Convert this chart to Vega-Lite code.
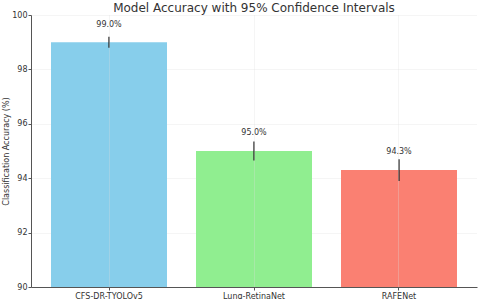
{
  "$schema": "https://vega.github.io/schema/vega-lite/v6.json",
  "autosize": {"type": "none"},
  "width": 446,
  "height": 272,
  "padding": {"left": 31, "top": 15, "right": 3, "bottom": 12},
  "background": "white",
  "title": {"text": "Model Accuracy with 95% Confidence Intervals", "font": "DejaVu Sans", "fontSize": 12, "fontWeight": "normal", "color": "#333333", "anchor": "middle", "offset": 4, "dy": 8},
  "config": {"view": {"stroke": null}},
  "data": {"values": [
    {"model": "CFS-DR-TYOLOv5", "acc": 99.0, "lo": 98.8, "hi": 99.2, "label": "99.0%", "color": "#87CEEB"},
    {"model": "Lung-RetinaNet", "acc": 95.0, "lo": 94.65, "hi": 95.35, "label": "95.0%", "color": "#90EE90"},
    {"model": "RAFENet", "acc": 94.3, "lo": 93.9, "hi": 94.7, "label": "94.3%", "color": "#FA8072"}
  ]},
  "encoding": {
    "x": {"field": "model", "type": "nominal", "sort": null,
      "scale": {"paddingInner": 0.2, "paddingOuter": 0.138},
      "axis": {"title": null, "labelAngle": 0, "labelFont": "DejaVu Sans", "labelFontSize": 8, "labelColor": "#333333", "domainColor": "#555555", "tickColor": "#555555", "tickSize": 3, "grid": true, "gridColor": "#dddddd", "gridDash": [1, 1], "gridWidth": 0.6, "zindex": 1, "labelPadding": 2}
    }
  },
  "layer": [
    {
      "mark": {"type": "bar", "opacity": 1},
      "encoding": {
        "y": {"field": "acc", "type": "quantitative",
          "scale": {"domain": [90, 100], "zero": false, "nice": false},
          "axis": {"title": "Classification Accuracy (%)", "titleFont": "DejaVu Sans", "titleFontSize": 8, "titleFontWeight": "normal", "titleColor": "#333333", "titlePadding": 1, "values": [90, 92, 94, 96, 98, 100], "labelFont": "DejaVu Sans", "labelFontSize": 8, "labelColor": "#333333", "domainColor": "#555555", "tickColor": "#555555", "tickSize": 3, "grid": true, "gridColor": "#dddddd", "gridDash": [1, 1], "gridWidth": 0.6, "labelPadding": 1}
        },
        "y2": {"datum": 90},
        "color": {"field": "color", "type": "nominal", "scale": null, "legend": null}
      }
    },
    {
      "mark": {"type": "rule", "color": "#222222", "strokeWidth": 1.3},
      "encoding": {
        "y": {"field": "lo", "type": "quantitative"},
        "y2": {"field": "hi"}
      }
    },
    {
      "mark": {"type": "text", "dy": -13.6, "font": "DejaVu Sans", "fontSize": 8, "color": "#333333", "baseline": "bottom"},
      "encoding": {
        "y": {"field": "acc", "type": "quantitative"},
        "text": {"field": "label"}
      }
    }
  ]
}
